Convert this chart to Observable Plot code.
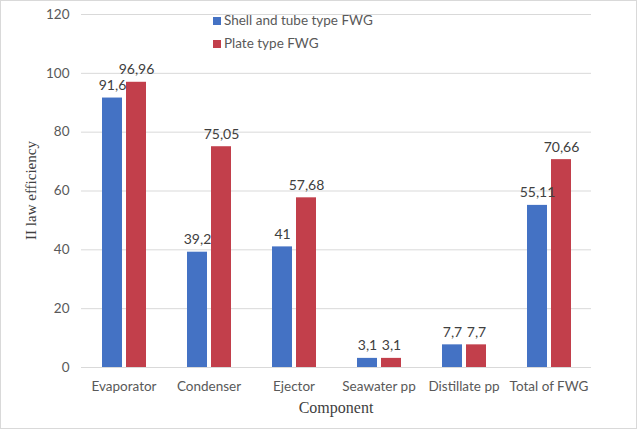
<!DOCTYPE html>
<html><head><meta charset="utf-8">
<script src="https://cdn.jsdelivr.net/npm/d3@7"></script>
<script src="https://cdn.jsdelivr.net/npm/@observablehq/plot@0.6"></script>
<style>
body{margin:0;background:#fff}
#wrap{position:relative;width:640px;height:431px;}
#legend{position:absolute;left:213px;top:9px;font-family:Lato,"Liberation Sans",sans-serif;font-size:13.5px;color:#595959;line-height:23px}
#legend .sw{display:inline-block;width:8px;height:8px;margin-right:3px;vertical-align:0px}
svg text.serif{font-family:"Liberation Serif","Times New Roman","DejaVu Serif",serif !important}
</style></head><body><div id="wrap"><div id="legend"></div></div>
<script>
const categories = ["Evaporator","Condenser","Ejector","Seawater pp","Distillate pp","Total of FWG"];
const shellTube = [91.6, 39.2, 41, 3.1, 7.7, 55.11];
const plateType = [96.96, 75.05, 57.68, 3.1, 7.7, 70.66];
const seriesNames = ["Shell and tube type FWG","Plate type FWG"];
const seriesColors = ["#4472C4","#C23F4B"];
const yTicks = [0,20,40,60,80,100,120];
const yLabel = "II law efficiency";
const xLabel = "Component";

const data = categories.flatMap((c,i)=>[
  {category:c, series:seriesNames[0], value:shellTube[i]},
  {category:c, series:seriesNames[1], value:plateType[i]}
]);
const fmt = v => String(v).replace(".", ",");

const chart = Plot.plot({
  width:640, height:431,
  marginLeft:80, marginRight:48, marginTop:14, marginBottom:64,
  style:{fontFamily:"Lato, 'Liberation Sans', sans-serif", fontSize:"13.5px", color:"#595959", background:"transparent", overflow:"visible"},
  fx:{domain:categories, padding:0, label:null, tickSize:0, tickPadding:14},
  x:{domain:seriesNames, axis:null, paddingInner:0.17, paddingOuter:0.82},
  y:{domain:[0,120], ticks:yTicks, tickSize:0, tickPadding:12, label:null},
  color:{domain:seriesNames, range:seriesColors},
  marks:[
    Plot.ruleY(yTicks, {stroke:"#d9d9d9", strokeWidth:1}),
    Plot.barY(data, {fx:"category", x:"series", y:"value", fill:"series"}),
    Plot.text(data, {fx:"category", x:"series", y:"value", text:d=>fmt(d.value), dy:-8, lineAnchor:"bottom", fill:"#404040", fontSize:14})
  ]
});
document.getElementById("wrap").prepend(chart);

const svg = d3.select(chart);
const yr = chart.scale("y").range;
const yMid = (yr[0]+yr[1])/2;
svg.append("text").attr("class","serif").attr("transform",`translate(33,${yMid}) rotate(-90)`)
  .attr("text-anchor","middle").attr("dominant-baseline","middle")
  .attr("font-size","15px").attr("fill","#404040")
  .text(yLabel);
svg.append("text").attr("class","serif").attr("x", 80 + (640-80-48)/2).attr("y", 409)
  .attr("text-anchor","middle").attr("dominant-baseline","middle")
  .attr("font-size","16px").attr("fill","#404040")
  .text(xLabel);
svg.append("rect").attr("x",0.5).attr("y",0.5).attr("width",636).attr("height",428)
  .attr("fill","none").attr("stroke","#d9d9d9");

const lg = document.getElementById("legend");
seriesNames.forEach((n,i)=>{
  const row = document.createElement("div");
  row.innerHTML = `<span class="sw" style="background:${seriesColors[i]}"></span>${n}`;
  lg.appendChild(row);
});
</script></body></html>
